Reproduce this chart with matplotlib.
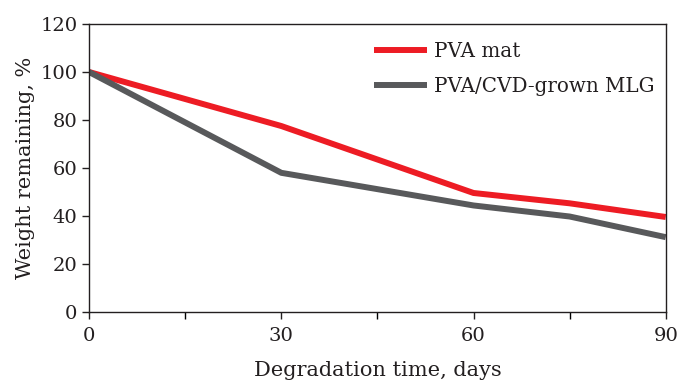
import matplotlib
matplotlib.use("Agg")
import matplotlib.pyplot as plt

days = [0, 30, 60, 75, 90]
pva_mat = [100, 77.5, 49.6, 45.3, 39.6]
pva_mlg = [100, 58, 44.4, 39.8, 31.2]

plt.rcParams['font.family'] = ['DejaVu Serif']

fig = plt.figure(figsize=(6.8, 3.81), dpi=100)
ax = fig.add_axes([0.131, 0.181, 0.848, 0.756])
ax.plot(days, pva_mat, color='#ED1C24', lw=4.3, label='PVA mat', solid_capstyle='butt')
ax.plot(days, pva_mlg, color='#58595B', lw=4.3, label='PVA/CVD-grown MLG', solid_capstyle='butt')

ax.set_xlim(0, 90)
ax.set_ylim(0, 120)
ax.set_xticks([0, 30, 60, 90])
ax.set_xticks([15, 45, 75], minor=True)
ax.set_yticks(range(0, 121, 20))
ax.tick_params(axis='both', direction='out', length=5, width=1, labelsize=14, color='#231F20', labelcolor='#231F20')
ax.tick_params(axis='x', which='minor', direction='out', length=5, width=1)
ax.tick_params(axis='x', pad=6)
for s in ax.spines.values():
    s.set_linewidth(1)
    s.set_color('#231F20')

ax.set_xlabel('Degradation time, days', fontsize=15, color='#231F20')
ax.xaxis.set_label_coords(0.5, -0.17)
ax.set_ylabel('Weight remaining, %', fontsize=15, color='#231F20')
ax.yaxis.set_label_coords(-0.093, 0.5)

leg = ax.legend(loc='upper left', frameon=False, fontsize=14.3, handlelength=2.7,
                handletextpad=0.35, borderaxespad=0.0, labelspacing=0.8,
                bbox_to_anchor=(0.48, 0.965))
for t in leg.get_texts():
    t.set_color('#231F20')

fig.savefig('out.png', dpi=100)
